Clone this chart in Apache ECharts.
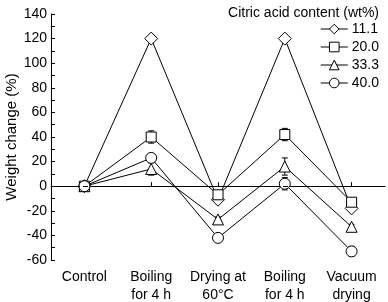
<!DOCTYPE html>
<html><head><meta charset="utf-8">
<script src="https://cdn.jsdelivr.net/npm/echarts@6/dist/echarts.min.js"></script>
<style>html,body{margin:0;padding:0;background:#fff}#c{width:388px;height:302px}</style>
</head><body><div id="c"></div>
<script>
var categories = ['Control', 'Boiling\nfor 4 h', 'Drying at\n60°C', 'Boiling\nfor 4 h', 'Vacuum\ndrying'];
var seriesNames = ['11.1', '20.0', '33.3', '40.0'];
var s111 = [0, 120, -11, 120, -18];
var s200 = [0, 40, -7, 42, -13];
var s333 = [0, 14, -27, 16, -33];
var s400 = [0, 23, -42, 2, -53];
var err111 = [0, 0, 1, 0, 1];
var err200 = [0, 5, 2, 5, 2];
var err333 = [0, 5, 2, 7, 2];
var err400 = [0, 3, 0, 5, 4];
var yTicks = {min: -60, max: 140, interval: 20};

var FONT = 'Liberation Sans';
var values = [s111, s200, s333, s400];
var errs = [err111, err200, err333, err400];
var symbols = ['diamond', 'rect', 'triangle', 'circle'];
var sizes = [13, 10, 11, 11];

var series = [];
values.forEach(function (v, k) {
  var ed = v.map(function (y, i) { return [i, y - errs[k][i], y + errs[k][i]]; });
  series.push({
    type: 'custom', silent: true, z: 1,
    data: ed,
    renderItem: function (params, api) {
      var lo = api.coord([api.value(0), api.value(1)]);
      var hi = api.coord([api.value(0), api.value(2)]);
      if (Math.abs(hi[1] - lo[1]) < 1) return null;
      var w = 3;
      var st = {stroke: '#000', lineWidth: 1};
      return {type: 'group', children: [
        {type: 'line', shape: {x1: lo[0], y1: lo[1], x2: hi[0], y2: hi[1]}, style: st},
        {type: 'line', shape: {x1: lo[0] - w, y1: lo[1], x2: lo[0] + w, y2: lo[1]}, style: st},
        {type: 'line', shape: {x1: hi[0] - w, y1: hi[1], x2: hi[0] + w, y2: hi[1]}, style: st}
      ]};
    }
  });
});
values.forEach(function (v, k) {
  var s = {
    type: 'line', name: seriesNames[k], data: v, z: 3,
    symbol: symbols[k], symbolSize: sizes[k], showAllSymbol: true,
    lineStyle: {color: '#000', width: 1},
    itemStyle: {color: '#fff', borderColor: '#000', borderWidth: 1},
    animation: false
  };
  if (k === 0) {
    s.markLine = {
      silent: true, symbol: 'none', label: {show: false},
      lineStyle: {color: '#000', type: [5, 3], width: 1},
      data: [{yAxis: 0}]
    };
  }
  series.push(s);
});

var chart = echarts.init(document.getElementById('c'), null, {renderer: 'canvas'});
chart.setOption({
  animation: false,
  backgroundColor: '#fff',
  textStyle: {fontFamily: FONT, color: '#000'},
  title: {
    text: 'Citric acid content (wt%)', right: 4, top: 1,
    textStyle: {fontFamily: FONT, fontSize: 14, fontWeight: 'normal', color: '#000'}
  },
  legend: {
    orient: 'vertical', right: 9, top: 22, itemGap: 4, padding: 0,
    itemWidth: 27, itemHeight: 12,
    data: seriesNames,
    lineStyle: {width: 1, color: '#000'},
    itemStyle: {color: '#fff', borderColor: '#000', borderWidth: 1},
    textStyle: {fontFamily: FONT, fontSize: 14, color: '#000', padding: [0, 0, 0, -1]}
  },
  grid: {left: 51, right: 3, top: 14, bottom: 42, outerBoundsMode: 'none', containLabel: false},
  xAxis: {
    type: 'category', data: categories, boundaryGap: true,
    axisLine: {lineStyle: {color: '#000', width: 1}},
    axisTick: {show: true, alignWithLabel: true, inside: true, length: 4, lineStyle: {color: '#000'}},
    axisLabel: {color: '#000', fontSize: 14, fontFamily: FONT, margin: 8, lineHeight: 18, interval: 0},
    splitLine: {show: false}
  },
  yAxis: {
    type: 'value', min: yTicks.min, max: yTicks.max, interval: yTicks.interval,
    name: 'Weight change (%)', nameLocation: 'middle', nameGap: 32, nameMoveOverlap: false,
    nameTextStyle: {fontFamily: FONT, fontSize: 15, color: '#000'},
    axisLine: {show: true, lineStyle: {color: '#000', width: 1}},
    axisTick: {show: true, inside: true, length: 4, lineStyle: {color: '#000'}},
    minorTick: {show: true, splitNumber: 2, length: 4, lineStyle: {color: '#000'}},
    axisLabel: {color: '#000', fontSize: 14, fontFamily: FONT, margin: 4},
    splitLine: {show: false}
  },
  series: series
});
</script></body></html>
